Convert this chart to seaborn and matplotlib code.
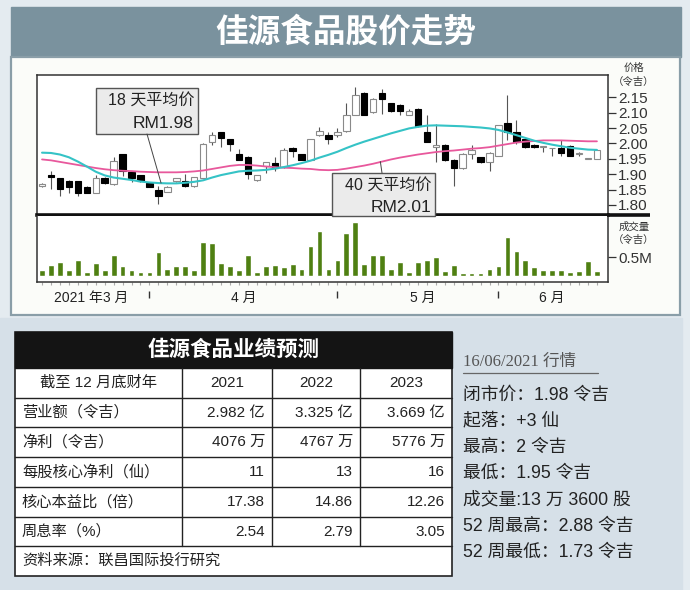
import seaborn as sns
import matplotlib.pyplot as plt
from matplotlib.patches import Rectangle

# ---- daily candles, mid-March to 16/06/2021 (RM) ----
open_ = [1.860, 1.897, 1.889, 1.878, 1.878, 1.859, 1.840, 1.889, 1.868, 1.966,
         1.908, 1.897, 1.870, 1.848, 1.843, 1.879, 1.879, 1.860, 1.889, 2.006,
         2.037, 2.015, 1.966, 1.955, 1.881, 1.925, 1.936, 1.922, 1.986, 1.966,
         1.947, 2.026, 2.028, 2.026, 2.040, 2.094, 2.165, 2.102, 2.165, 2.132,
         2.124, 2.094, 2.113, 2.037, 1.990, 1.996, 1.947, 1.920, 1.966, 1.955,
         1.940, 1.960, 2.066, 2.037, 2.015, 1.996, 1.990, 1.984, 1.986, 1.993,
         1.966, 1.950, 1.950]
high = [1.872, 1.911, 1.889, 1.880, 1.878, 1.860, 1.897, 1.890, 1.955, 1.966,
        1.910, 1.898, 1.871, 1.862, 1.860, 1.889, 1.900, 1.892, 2.000, 2.037,
        2.038, 2.016, 1.982, 1.960, 1.898, 1.940, 1.955, 1.985, 1.988, 1.967,
        2.016, 2.055, 2.037, 2.050, 2.132, 2.184, 2.166, 2.147, 2.176, 2.133,
        2.130, 2.113, 2.114, 2.094, 2.064, 1.998, 1.948, 1.968, 1.996, 1.956,
        1.972, 2.060, 2.157, 2.075, 2.016, 1.998, 1.993, 1.986, 2.010, 1.995,
        1.972, 1.951, 1.980]
low = [1.858, 1.851, 1.829, 1.840, 1.829, 1.838, 1.838, 1.868, 1.866, 1.895,
       1.873, 1.873, 1.858, 1.802, 1.841, 1.876, 1.858, 1.858, 1.888, 1.995,
       1.988, 1.977, 1.945, 1.884, 1.879, 1.905, 1.911, 1.920, 1.955, 1.945,
       1.945, 2.024, 1.999, 2.020, 2.038, 2.092, 2.092, 2.100, 2.097, 2.103,
       2.092, 2.093, 2.054, 2.005, 1.939, 1.944, 1.862, 1.918, 1.949, 1.937,
       1.911, 1.958, 2.010, 1.999, 1.986, 1.986, 1.971, 1.960, 1.960, 1.958,
       1.960, 1.949, 1.948]
close = [1.868, 1.890, 1.851, 1.859, 1.840, 1.840, 1.889, 1.870, 1.944, 1.911,
         1.889, 1.878, 1.859, 1.829, 1.859, 1.886, 1.860, 1.890, 1.999, 2.026,
         2.018, 1.999, 1.947, 1.900, 1.897, 1.939, 1.920, 1.980, 1.977, 1.947,
         2.015, 2.039, 2.015, 2.038, 2.092, 2.157, 2.094, 2.146, 2.146, 2.105,
         2.105, 2.106, 2.056, 2.006, 1.994, 1.947, 1.920, 1.966, 1.979, 1.939,
         1.970, 2.059, 2.037, 2.006, 1.988, 1.988, 1.992, 1.986, 1.968, 1.960,
         1.967, 1.951, 1.980]
volume_m = [0.14, 0.30, 0.38, 0.14, 0.43, 0.11, 0.35, 0.15, 0.55, 0.26,
            0.14, 0.11, 0.11, 0.64, 0.18, 0.26, 0.26, 0.14, 0.91, 0.88,
            0.35, 0.27, 0.14, 0.57, 0.11, 0.27, 0.30, 0.23, 0.32, 0.18,
            0.81, 1.21, 0.18, 0.43, 1.14, 1.44, 0.32, 0.55, 0.55, 0.18,
            0.36, 0.09, 0.36, 0.43, 0.50, 0.12, 0.30, 0.06, 0.08, 0.07,
            0.18, 0.27, 1.05, 0.66, 0.43, 0.23, 0.14, 0.14, 0.14, 0.11,
            0.12, 0.39, 0.13]
ma18 = [1.970, 1.969, 1.964, 1.955, 1.941, 1.925, 1.908, 1.896, 1.889, 1.885,
        1.881, 1.876, 1.873, 1.871, 1.870, 1.870, 1.872, 1.875, 1.880, 1.889,
        1.897, 1.903, 1.909, 1.911, 1.912, 1.914, 1.918, 1.923, 1.929, 1.936,
        1.944, 1.954, 1.963, 1.973, 1.985, 1.996, 2.006, 2.015, 2.024, 2.033,
        2.041, 2.049, 2.054, 2.058, 2.059, 2.058, 2.057, 2.056, 2.054, 2.052,
        2.049, 2.044, 2.036, 2.027, 2.018, 2.009, 2.002, 1.996, 1.991, 1.986,
        1.983, 1.980, 1.979]
ma40 = [1.948, 1.945, 1.940, 1.935, 1.930, 1.925, 1.920, 1.916, 1.913, 1.911,
        1.910, 1.908, 1.907, 1.906, 1.906, 1.906, 1.907, 1.909, 1.912, 1.917,
        1.922, 1.927, 1.930, 1.930, 1.928, 1.925, 1.923, 1.921, 1.920, 1.918,
        1.917, 1.914, 1.913, 1.914, 1.918, 1.923, 1.928, 1.934, 1.941, 1.948,
        1.954, 1.959, 1.964, 1.968, 1.972, 1.975, 1.977, 1.980, 1.983, 1.985,
        1.988, 1.993, 1.998, 2.003, 2.006, 2.008, 2.010, 2.010, 2.010, 2.009,
        2.008, 2.007, 2.007]
days = list(range(len(close)))

month_labels = ['2021 年3 月', '4 月', '5 月', '6 月']
month_label_pos = [5.5, 22.5, 42.5, 57]
month_breaks = [12, 33, 51]
price_ticks = [1.80, 1.85, 1.90, 1.95, 2.00, 2.05, 2.10, 2.15]

# ---- forecast table ----
table_head = ['截至 12 月底财年', '2021', '2022', '2023']
table_rows = ['营业额（令吉）', '净利（令吉）', '每股核心净利（仙）', '核心本益比（倍）', '周息率（%）']
table_vals = [['2.982 亿', '3.325 亿', '3.669 亿'],
              ['4076 万', '4767 万', '5776 万'],
              ['11', '13', '16'],
              ['17.38', '14.86', '12.26'],
              ['2.54', '2.79', '3.05']]
source = '资料来源：联昌国际投行研究'

quote_date = '16/06/2021 行情'
quote_lines = ['闭市价：1.98 令吉', '起落：+3 仙', '最高：2 令吉', '最低：1.95 令吉',
               '成交量:13 万 3600 股', '52 周最高：2.88 令吉', '52 周最低：1.73 令吉']

sns.set_style('white')
# Arial-like digits, CJK glyphs fall through to Noto
plt.rcParams['font.family'] = ['Liberation Sans', 'Noto Sans CJK SC', 'DejaVu Sans']

W, H = 690, 590
fig = plt.figure(figsize=(W / 100, H / 100), dpi=100)


def px_axes(x0, y0, x1, y1, **kw):
    return fig.add_axes([x0 / W, 1 - y1 / H, (x1 - x0) / W, (y1 - y0) / H], **kw)


# background drawn in pixel coords
bg = px_axes(0, 0, W, H)
bg.set_xlim(0, W)
bg.set_ylim(H, 0)
bg.axis('off')
bg.set_zorder(0)
bg.add_patch(Rectangle((0, 0), W, H, color='#e4ebf0'))
bg.add_patch(Rectangle((0, 318), 682, 272, color='#d6e0e8'))
bg.add_patch(Rectangle((11, 7), 670, 50, color='#7a929e'))
bg.add_patch(Rectangle((11, 57), 669, 258, facecolor='#fbfcf9', edgecolor='#8a9ea8', lw=1.6))
bg.text(346, 33, '佳源食品股价走势', color='white', fontsize=23.5, fontweight='bold',
        ha='center', va='center')

# ---- price panel ----
axp = px_axes(37.3, 75, 608.3, 215)
axp.set_zorder(2)
up = [c >= o for o, c in zip(open_, close)]
axp.vlines(days, low, high, color='#555555', lw=0.8, zorder=2)
body_lo = [min(o, c) for o, c in zip(open_, close)]
body_h = [max(abs(c - o), 0.0015) for o, c in zip(open_, close)]
axp.bar(days, body_h, bottom=body_lo, width=0.72,
        color=['white' if u else 'black' for u in up],
        edgecolor=['#8a8a8a' if u else 'black' for u in up], lw=0.8, zorder=3)
sns.lineplot(x=days, y=ma40, ax=axp, color='#e8589c', lw=1.3, zorder=4)
sns.lineplot(x=days, y=ma18, ax=axp, color='#35c3c6', lw=1.5, zorder=4)
axp.set_xlim(-0.53, 63.27)
axp.set_ylim(1.767, 2.223)
axp.set_yticks(price_ticks)
axp.set_yticklabels([f'{v:.2f}' for v in price_ticks])
axp.yaxis.tick_right()
axp.tick_params(axis='y', right=True, direction='out', length=6, width=0.9,
                color='#333333', labelsize=11, labelcolor='#333333', pad=1)
axp.set_xticks([])
for s in ['left', 'top', 'right']:
    axp.spines[s].set_color('#333333')
    axp.spines[s].set_linewidth(1.1)
axp.spines['bottom'].set_color('#111111')
axp.spines['bottom'].set_linewidth(2.6)
axp.set_xlabel('')
axp.set_ylabel('')

# ---- volume panel ----
axv = px_axes(37.3, 216.5, 608.3, 281.5)
axv.set_zorder(2)
sns.barplot(x=days, y=volume_m, ax=axv, native_scale=True, color='#4f8012',
            saturation=1, width=0.64)
axv.set_xlim(-0.53, 63.27)
axv.set_ylim(-0.16, 1.6)
axv.set_yticks([0.5])
axv.set_yticklabels(['0.5M'])
axv.yaxis.tick_right()
axv.tick_params(axis='y', right=True, direction='out', length=6, width=0.9,
                color='#333333', labelsize=11, labelcolor='#333333', pad=1)
axv.set_xticks(month_label_pos)
axv.set_xticklabels(month_labels)
axv.set_xticks(days, minor=True)
axv.tick_params(axis='x', which='major', length=0, labelsize=10,
                labelcolor='#222222', pad=7)
axv.tick_params(axis='x', which='minor', bottom=True, direction='out', length=2,
                width=0.8, color='#aaaaaa')
axv.vlines(month_breaks, -0.14, -0.26, transform=axv.get_xaxis_transform(),
           color='#333333', lw=1, clip_on=False)
for s in ['left', 'bottom', 'right']:
    axv.spines[s].set_color('#333333')
    axv.spines[s].set_linewidth(1.1)
axv.spines['top'].set_visible(False)
axv.set_xlabel('')
axv.set_ylabel('')

# ---- foreground: labels, MA boxes, table, quote ----
fg = px_axes(0, 0, W, H)
fg.set_xlim(0, W)
fg.set_ylim(H, 0)
fg.axis('off')
fg.set_zorder(5)
fg.patch.set_alpha(0)

# divider between price and volume runs on under the labels
fg.plot([607, 650], [215, 215], color='#111111', lw=2.6, solid_capstyle='butt')

small = dict(fontsize=7.5, color='#333333', ha='center', va='center')
fg.text(634, 68, '价格', **small)
fg.text(634, 82, '（令吉）', **small)
fg.text(634, 227, '成交量', **small)
fg.text(634, 240, '（令吉）', **small)

box = dict(facecolor='#ebebeb', edgecolor='#555555', lw=1)
fg.add_patch(Rectangle((96, 88), 102, 46, zorder=3, **box))
fg.text(194, 101, '18 天平均价', fontsize=11.5, ha='right', va='center', color='#222222', zorder=4)
fg.text(194, 123, 'RM1.98', fontsize=12.5, ha='right', va='center', color='#222222', zorder=4)
fg.annotate('', xy=(13.3, ma18[13]), xycoords=axp.transData, xytext=(147, 134),
            textcoords='data', arrowprops=dict(arrowstyle='-', color='#444444', lw=0.7,
                                               shrinkA=0, shrinkB=0))
fg.add_patch(Rectangle((332, 173), 103, 43, zorder=3, **box))
fg.text(431, 186, '40 天平均价', fontsize=11.5, ha='right', va='center', color='#222222', zorder=4)
fg.text(431, 207, 'RM2.01', fontsize=12.5, ha='right', va='center', color='#222222', zorder=4)
fg.annotate('', xy=(37.8, ma40[38]), xycoords=axp.transData, xytext=(382, 173),
            textcoords='data', arrowprops=dict(arrowstyle='-', color='#444444', lw=0.7,
                                               shrinkA=0, shrinkB=0))

# table
tx0, tx1 = 15, 452
col_x = [15, 182, 272, 360, 452]
row_y = [368, 398, 427, 457, 487, 517, 546, 576]
fg.add_patch(Rectangle((tx0, 332), tx1 - tx0, 244, facecolor='white', edgecolor='#222222', lw=1.2))
fg.add_patch(Rectangle((tx0, 332), tx1 - tx0, 36, color='#141414'))
fg.text((tx0 + tx1) / 2, 350, '佳源食品业绩预测', color='white', fontsize=15.5,
        fontweight='bold', ha='center', va='center')
for y in row_y[1:-1]:
    fg.plot([tx0, tx1], [y, y], color='#222222', lw=1)
for x in col_x[1:-1]:
    fg.plot([x, x], [row_y[0], row_y[-2]], color='#222222', lw=1)
txt = dict(fontsize=11, color='#222222', va='center')
yc = (row_y[0] + row_y[1]) / 2
fg.text((col_x[0] + col_x[1]) / 2, yc, table_head[0], ha='center', **txt)
for k in range(3):
    fg.text((col_x[k + 1] + col_x[k + 2]) / 2, yc, table_head[k + 1], ha='center', **txt)
for r, (name, vals) in enumerate(zip(table_rows, table_vals)):
    yc = (row_y[r + 1] + row_y[r + 2]) / 2
    fg.text(22, yc, name, ha='left', **txt)
    for k, v in enumerate(vals):
        fg.text(col_x[k + 2] - 7, yc, v, ha='right', **txt)
fg.text(22, (row_y[-2] + row_y[-1]) / 2, source, ha='left', **txt)

# quote panel
fg.text(463, 362, quote_date, family=['Liberation Serif', 'Noto Sans CJK SC'],
        fontsize=12, color='#555555', ha='left', va='center')
fg.plot([463, 598], [373, 373], color='#666666', lw=0.9)
for k, line in enumerate(quote_lines):
    fg.text(463, 395 + 26.2 * k, line, fontsize=12.8, color='#222222', ha='left', va='center')

fig.savefig('out.png', dpi=100)
